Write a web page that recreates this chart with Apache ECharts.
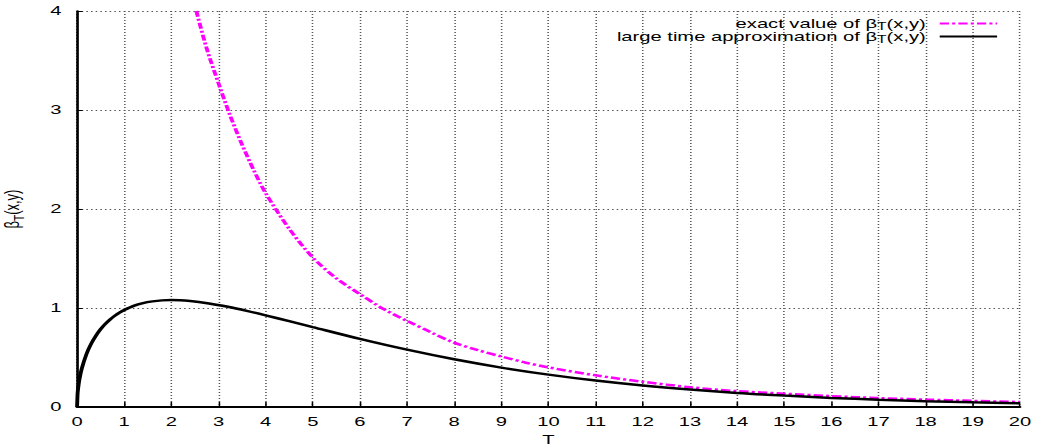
<!DOCTYPE html>
<html lang="en">
<head>
    <meta charset="UTF-8">
    <title>beta_T</title>
    <script src="https://cdn.jsdelivr.net/npm/echarts@6/dist/echarts.min.js"></script>
    <style>
        html, body { margin: 0; padding: 0; background: #fff; overflow: hidden; }
        /* the reference plot is a horizontally stretched gnuplot image, so draw narrow and stretch */
        #main { width: 670px; height: 444px; transform: scaleX(1.5507); transform-origin: 0 0; }
    </style>
</head>
<body>
    <div id="main"></div>
</body>
</html>
<script type="text/javascript">
    // values
    var exactT = [2.53, 2.75, 3, 3.25, 3.5, 3.75, 4, 4.5, 5, 5.5, 6, 6.5, 7, 7.5, 8, 8.5, 9, 9.5, 10, 11, 12, 13, 14, 15, 16, 17, 18, 19, 20];
    var exactVal = [4.0, 3.62, 3.27, 2.94, 2.65, 2.39, 2.16, 1.80, 1.51, 1.30, 1.14, 0.99, 0.87, 0.755, 0.65, 0.575, 0.51, 0.45, 0.40, 0.32, 0.255, 0.20, 0.16, 0.135, 0.11, 0.09, 0.075, 0.062, 0.05];

    var approxT = [0, 0.01, 0.02, 0.05, 0.1, 0.2, 0.3, 0.4, 0.5, 0.6, 0.7, 0.8, 0.9, 1, 1.2, 1.4, 1.6, 1.8, 2, 2.4, 2.8, 3.2, 3.6, 4, 4.5, 5, 6, 7, 8, 9, 10, 11, 12, 13, 14, 15, 16, 17, 18, 19, 20];
    var approxVal = [0, 0.126, 0.178, 0.278, 0.388, 0.536, 0.640, 0.720, 0.786, 0.839, 0.884, 0.922, 0.954, 0.980, 1.022, 1.050, 1.067, 1.077, 1.080, 1.070, 1.046, 1.012, 0.971, 0.926, 0.867, 0.807, 0.688, 0.579, 0.482, 0.398, 0.327, 0.267, 0.217, 0.176, 0.142, 0.115, 0.092, 0.074, 0.059, 0.047, 0.038];

    var xTicks = [0, 1, 2, 3, 4, 5, 6, 7, 8, 9, 10, 11, 12, 13, 14, 15, 16, 17, 18, 19, 20];
    var yTicks = [0, 1, 2, 3, 4];

    function pairs(xs, ys) {
        return xs.map(function (x, i) { return [x, ys[i]]; });
    }

    var font = 'Liberation Sans';
    var betaRich = {
        n: { fontFamily: font, fontSize: 13, color: '#000' },
        s: { fontFamily: font, fontSize: 10, color: '#000', padding: [7, 0, 0, 0] }
    };

    var myChart = echarts.init(document.getElementById('main'), null, { renderer: 'svg' });
    var option = {
        animation: false,
        backgroundColor: '#fff',
        grid: { left: 49.7, right: 12.3, top: 11, bottom: 37, containLabel: false, outerBoundsMode: 'none' },
        legend: {
            orient: 'vertical',
            right: 21,
            top: 12,
            align: 'right',
            itemWidth: 37,
            itemHeight: 12,
            itemGap: -2,
            itemStyle: { color: 'transparent', borderColor: 'transparent', opacity: 0 },
            data: ['exact', 'approx'],
            formatter: function (name) {
                if (name === 'exact') return '{n|exact value of β}{s|T}{n|(x,y)}';
                return '{n|large time approximation of β}{s|T}{n|(x,y)}';
            },
            textStyle: { rich: betaRich, padding: [0, 4, 0, 0] }
        },
        xAxis: {
            type: 'value',
            min: 0,
            max: 20,
            interval: 1,
            name: 'T',
            nameLocation: 'middle',
            nameGap: 16,
            nameTextStyle: { fontFamily: font, fontSize: 13, lineHeight: 13, color: '#000' },
            axisLine: { lineStyle: { color: '#000', width: 2 } },
            axisTick: { inside: true, length: 5, lineStyle: { color: '#000' } },
            axisLabel: {
                fontFamily: font, fontSize: 13, color: '#000', margin: 8,
                formatter: function (v) { return xTicks.indexOf(v) >= 0 ? String(v) : ''; }
            },
            splitLine: { show: true, lineStyle: { color: '#555', type: [1, 2], width: 1 } }
        },
        yAxis: {
            type: 'value',
            min: 0,
            max: 4,
            interval: 1,
            name: '{n|β}{s|T}{n|(x,y)}',
            nameLocation: 'middle',
            nameRotate: 90,
            nameGap: 33,
            nameTextStyle: { rich: betaRich },
            axisLine: { lineStyle: { color: '#000', width: 1.7 } },
            axisTick: { inside: true, length: 3.5, lineStyle: { color: '#000' } },
            axisLabel: {
                fontFamily: font, fontSize: 13, color: '#000', margin: 10,
                formatter: function (v) { return yTicks.indexOf(v) >= 0 ? String(v) : ''; }
            },
            splitLine: { show: true, lineStyle: { color: '#555', type: [1, 2], width: 1 } }
        },
        series: [
            {
                name: 'exact',
                type: 'line',
                smooth: 0.3,
                symbol: 'none',
                clip: true,
                color: '#ff00ff',
                lineStyle: { color: '#ff00ff', width: 2.5, type: [6, 2, 2, 2] },
                data: pairs(exactT, exactVal)
            },
            {
                name: 'approx',
                type: 'line',
                smooth: 0.3,
                symbol: 'none',
                clip: true,
                color: '#000',
                lineStyle: { color: '#000', width: 2.5 },
                data: pairs(approxT, approxVal)
            }
        ]
    };
    myChart.setOption(option);
</script>
